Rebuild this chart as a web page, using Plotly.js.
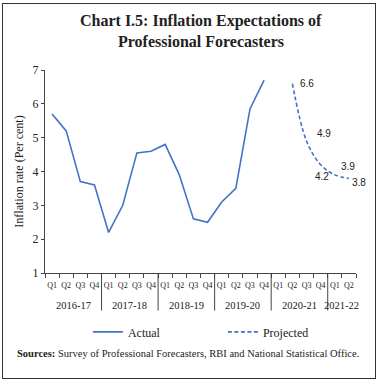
<!DOCTYPE html>
<html><head><meta charset="utf-8">
<script src="https://cdn.plot.ly/plotly-3.0.1.min.js"></script>
<style>
body{margin:0;padding:0;background:#fff;}
#chart{position:absolute;left:0;top:0;width:381px;height:384px;}
#frame{position:absolute;left:2px;top:3px;width:372px;height:374px;border:1.5px solid #333;pointer-events:none;}
</style></head>
<body>
<div id="chart"></div>
<div id="frame"></div>
<script>
const years = ['2016-17','2017-18','2018-19','2019-20','2020-21','2021-22'];
const quartersPerYear = [['Q1','Q2','Q3','Q4'],['Q1','Q2','Q3','Q4'],['Q1','Q2','Q3','Q4'],['Q1','Q2','Q3','Q4'],['Q1','Q2','Q3','Q4'],['Q1','Q2']];
const actual = [5.7,5.2,3.7,3.6,2.2,3.0,4.55,4.6,4.8,3.9,2.6,2.5,3.1,3.5,5.85,6.7,null,null,null,null,null,null];
const projected = [null,null,null,null,null,null,null,null,null,null,null,null,null,null,null,null,null,6.6,4.9,4.2,3.9,3.8];

const xQ = [], idx = [];
const yearSpans = [];
years.forEach((y,i)=>{
  const start = xQ.length;
  quartersPerYear[i].forEach(q=>{idx.push(xQ.length); xQ.push(q);});
  yearSpans.push([start, xQ.length-1]);
});

const blue = '#4472C4';
const serif = 'Liberation Serif, Times New Roman, serif';

const traces = [
  {x:idx, y:actual, type:'scatter', mode:'lines', name:'Actual',
   line:{color:blue, width:1.6}, connectgaps:false},
  {x:idx, y:projected, type:'scatter', mode:'lines', name:'Projected',
   line:{color:blue, width:1.6, dash:'4px,2.5px', shape:'spline'}, connectgaps:false}
];

const shifts = [[15,0],[17,8],[1,-12],[13,8],[10,-4]];
const annotations = [];
let k = 0;
projected.forEach((v,i)=>{
  if(v===null) return;
  const s = shifts[k++] || [12,0];
  annotations.push({x:idx[i], y:v, xref:'x', yref:'y', text:v.toFixed(1), showarrow:false,
    xshift:s[0], yshift:s[1], font:{family:'Liberation Sans, Arial, sans-serif', size:10, color:'#222'}});
});
const shapes = [];
years.forEach((y,i)=>{
  const [a,b] = yearSpans[i];
  annotations.push({x:(a+b)/2, y:-0.158, xref:'x', yref:'paper', text:y, showarrow:false,
    yanchor:'middle', font:{family:serif, size:10.5, color:'#222'}});
  if(i>0){
    shapes.push({type:'line', xref:'x', yref:'paper', x0:a-0.5, x1:a-0.5, y0:0, y1:-0.185,
      line:{color:'#444', width:1}});
  }
});
annotations.push({xref:'paper', yref:'paper', x:-0.097, y:-0.395, xanchor:'left', yanchor:'middle',
  showarrow:false, text:'<b>Sources:</b> Survey of Professional Forecasters, RBI and National Statistical Office.',
  font:{family:serif, size:10.5, color:'#222'}});
annotations.push({xref:'paper', yref:'paper', x:0.5, y:1.241, xanchor:'center', yanchor:'middle',
  showarrow:false, text:'<b>Chart I.5: Inflation Expectations of</b>', font:{family:serif, size:16, color:'#222'}});
annotations.push({xref:'paper', yref:'paper', x:0.5, y:1.141, xanchor:'center', yanchor:'middle',
  showarrow:false, text:'<b>Professional Forecasters</b>', font:{family:serif, size:16, color:'#222'}});

const layout = {
  width:381, height:384,
  margin:{l:45, r:25, t:70, b:111},
  paper_bgcolor:'#fff', plot_bgcolor:'#fff',
  showlegend:true,
  xaxis:{range:[-0.5,21.5], showline:true, linecolor:'#444', linewidth:1, zeroline:false,
    tickmode:'array', tickvals:idx, ticktext:xQ, tickangle:0,
    ticks:'outside', ticklen:4, tickcolor:'rgba(0,0,0,0)', showgrid:false,
    minor:{tick0:-0.5, dtick:1, ticks:'outside', ticklen:4, tickcolor:'#444', showgrid:false},
    tickfont:{family:serif, size:8, color:'#222'}},
  yaxis:{range:[1,7], dtick:1, showline:true, linecolor:'#444', linewidth:1,
    ticks:'outside', ticklen:3, tickcolor:'#444', showgrid:false, zeroline:false,
    tickfont:{family:serif, size:12, color:'#222'},
    title:{text:'Inflation rate (Per cent)', font:{family:serif, size:12, color:'#222'}, standoff:6}},
  legend:{orientation:'h', x:0.138, xanchor:'left', y:-0.29, yanchor:'middle',
    font:{family:serif, size:12, color:'#222'}, entrywidth:90, itemwidth:30},
  annotations:annotations,
  shapes:shapes
};

Plotly.newPlot('chart', traces, layout, {staticPlot:true, displayModeBar:false});
</script>
</body></html>
